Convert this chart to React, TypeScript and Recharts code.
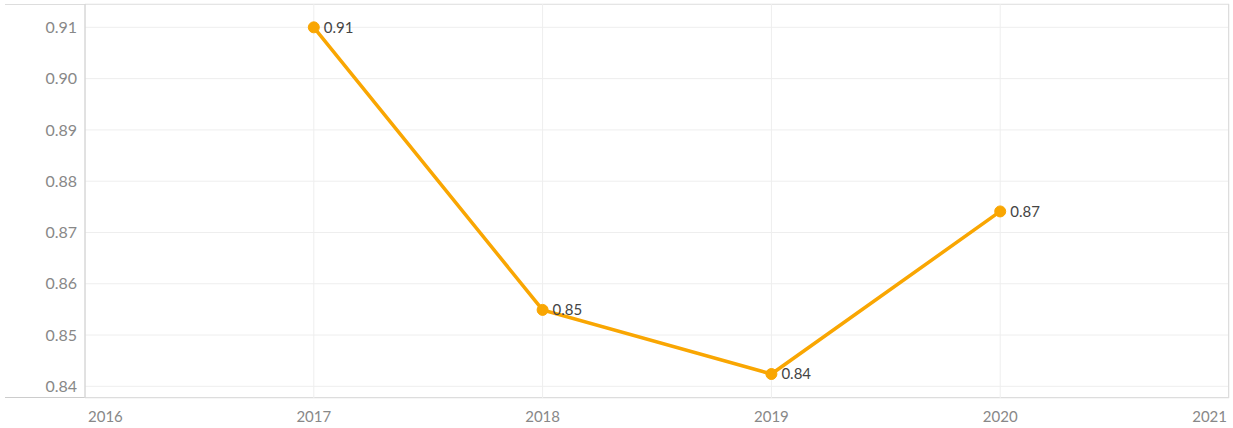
import { LineChart, Line, XAxis, YAxis, CartesianGrid, LabelList } from "recharts";

const years = [2017, 2018, 2019, 2020];
const values = [0.91, 0.8549, 0.8424, 0.8741];
const xTicks = [2016, 2017, 2018, 2019, 2020, 2021];
const yTicks = [0.84, 0.85, 0.86, 0.87, 0.88, 0.89, 0.9, 0.91];

const data = years.map((year, i) => ({ year, value: values[i] }));

const FONT = "Lato, 'Open Sans', sans-serif";

const XTick = (props: any) => {
  const { x, y, payload } = props;
  let anchor: "start" | "middle" | "end" = "middle";
  if (payload.value === xTicks[0]) anchor = "start";
  if (payload.value === xTicks[xTicks.length - 1]) anchor = "end";
  return (
    <text
      x={x + (anchor === "start" ? 3 : anchor === "end" ? -2 : 0)}
      y={y}
      dy={16}
      textAnchor={anchor}
      fill="#888"
      fontSize={15}
      fontFamily={FONT}
    >
      {payload.value}
    </text>
  );
};

export default function App() {
  return (
    <div style={{ position: "fixed", left: 0, top: 0, width: 1233, height: 428, background: "#fff" }}>
      {/* extended frame lines that reach past the plot area */}
      <div style={{ position: "absolute", left: 5, top: 4, width: 1224, height: 1, background: "#ddd" }} />
      <div style={{ position: "absolute", left: 5, top: 397, width: 1224, height: 1, background: "#ccc" }} />
      <LineChart
        width={1233}
        height={428}
        data={data}
        margin={{ top: 4, right: 4, bottom: 0, left: 0 }}
      >
        <CartesianGrid stroke="#eeeeee" strokeWidth={1} />
        <XAxis
          dataKey="year"
          type="number"
          domain={[2016, 2021]}
          ticks={xTicks}
          height={30}
          axisLine={false}
          tickLine={false}
          tick={<XTick />}
          interval={0}
        />
        <YAxis
          type="number"
          domain={[0.83772, 0.91455]}
          ticks={yTicks}
          width={85}
          axisLine={{ stroke: "#ccc" }}
          tickLine={false}
          tickMargin={2}
          tickFormatter={(v: number) => v.toFixed(2)}
          tick={{ fill: "#888", fontSize: 16, fontFamily: FONT }}
          allowDataOverflow
        />
        <Line
          dataKey="value"
          stroke="#f9a602"
          strokeWidth={3.5}
          dot={{ r: 5.5, fill: "#f9a602", stroke: "#f9a602", strokeWidth: 1 }}
          isAnimationActive={false}
        >
          <LabelList
            dataKey="value"
            position="right"
            offset={10}
            formatter={(v: any) => Number(v).toFixed(2)}
            style={{ fill: "#444", fontSize: 15, fontFamily: FONT }}
          />
        </Line>
      </LineChart>
      <div style={{ position: "absolute", left: 1228, top: 4, width: 1, height: 394, background: "#ddd" }} />
    </div>
  );
}
